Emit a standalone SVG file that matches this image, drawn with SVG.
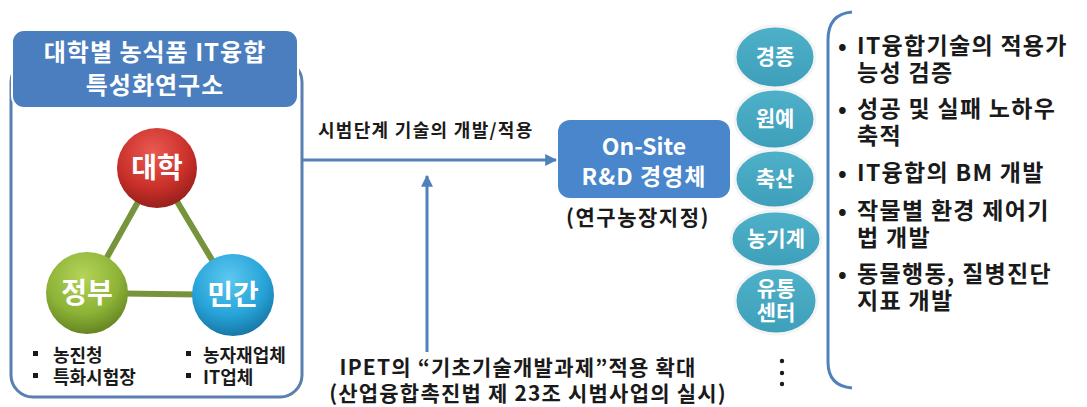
<svg xmlns="http://www.w3.org/2000/svg" width="1087" height="407" viewBox="0 0 1087 407">
<style>
.k{font-family:"Noto Sans CJK KR","Noto Sans",sans-serif;font-weight:bold}
.w{fill:#fff}
.d{fill:#1a1a1a}
.ell{fill:url(#gTeal);stroke:#f4f4f4;stroke-width:3}
.blue{stroke:#4F81BD;stroke-width:3;fill:none}
</style>
<defs>
<radialGradient id="gRed" cx="0.45" cy="0.3" r="0.75"><stop offset="0" stop-color="#ea5a52"/><stop offset="0.6" stop-color="#c9302a"/><stop offset="1" stop-color="#8f1c18"/></radialGradient>
<radialGradient id="gGreen" cx="0.45" cy="0.3" r="0.75"><stop offset="0" stop-color="#b4d45a"/><stop offset="0.6" stop-color="#8cb236"/><stop offset="1" stop-color="#5e7d1e"/></radialGradient>
<radialGradient id="gBlue" cx="0.45" cy="0.3" r="0.75"><stop offset="0" stop-color="#5cc8f0"/><stop offset="0.6" stop-color="#27a3d8"/><stop offset="1" stop-color="#14709c"/></radialGradient>
<linearGradient id="gTeal" x1="0" y1="0" x2="0" y2="1"><stop offset="0" stop-color="#4fb0c9"/><stop offset="1" stop-color="#3e9fba"/></linearGradient>
<marker id="arr" viewBox="0 0 10 10" refX="9" refY="5" markerWidth="4" markerHeight="4" orient="auto"><path d="M0,0 L10,5 L0,10 z" fill="#4F81BD"/></marker>
</defs>
<rect width="1087" height="407" fill="#fff"/>

<g id="left-panel">
<rect x="11" y="60" width="291" height="337" rx="22" fill="none" stroke="#5a7fb0" stroke-width="3"/>
<rect x="12" y="30" width="286" height="78" rx="12" fill="#4a7ebe" stroke="#fff" stroke-width="2"/>
<text class="k w" font-size="24" letter-spacing="1" text-anchor="middle"><tspan x="155" y="61">대학별 농식품 IT융합</tspan><tspan x="155" y="94">특성화연구소</tspan></text>
</g>

<g id="triangle-links" stroke="#77933C" stroke-width="6">
<line x1="157" y1="168" x2="87" y2="293"/>
<line x1="157" y1="168" x2="233" y2="295"/>
<line x1="87" y1="293" x2="233" y2="295"/>
</g>
<g id="node-daehak">
<circle cx="157" cy="168" r="40" fill="url(#gRed)"/>
<text class="k w" font-size="28" text-anchor="middle" x="157" y="178">대학</text>
</g>
<g id="node-jeongbu">
<circle cx="87" cy="293" r="41" fill="url(#gGreen)"/>
<text class="k w" font-size="28" text-anchor="middle" x="87" y="303">정부</text>
</g>
<g id="node-mingan">
<circle cx="233" cy="295" r="41" fill="url(#gBlue)"/>
<text class="k w" font-size="28" text-anchor="middle" x="233" y="305">민간</text>
</g>
<g id="left-bullets" class="k d" font-size="18">
<rect x="33" y="351" width="5" height="5" fill="#1a1a1a"/>
<rect x="33" y="373" width="5" height="5" fill="#1a1a1a"/>
<text><tspan x="53" y="362">농진청</tspan><tspan x="53" y="384">특화시험장</tspan></text>
<rect x="186" y="351" width="5" height="5" fill="#1a1a1a"/>
<rect x="186" y="373" width="5" height="5" fill="#1a1a1a"/>
<text><tspan x="203" y="362">농자재업체</tspan><tspan x="203" y="384">IT업체</tspan></text>
</g>

<g id="connectors">
<line class="blue" x1="303" y1="160" x2="556" y2="160" marker-end="url(#arr)"/>
<line class="blue" x1="427" y1="352" x2="427" y2="176" marker-end="url(#arr)"/>
</g>
<text class="k d" font-size="18" letter-spacing="1.3" x="318" y="137">시범단계 기술의 개발/적용</text>

<g id="node-onsite">
<rect x="558" y="120" width="172" height="78" rx="12" fill="#4a86cc"/>
<text class="k w" font-size="23" text-anchor="middle"><tspan x="644" y="155">On-Site</tspan><tspan x="644" y="185" letter-spacing="1">R&amp;D 경영체</tspan></text>
<text class="k d" font-size="21" letter-spacing="1.5" text-anchor="middle" x="638" y="225">(연구농장지정)</text>
</g>

<g id="bottom-label" class="k d" font-size="21" text-anchor="middle" letter-spacing="1.2">
<text><tspan x="518" y="375">IPET의 “기초기술개발과제”적용 확대</tspan><tspan x="528" y="401">(산업융합촉진법 제 23조 시범사업의 실시)</tspan></text>
</g>

<g id="node-gyeongjong">
<ellipse class="ell" cx="775" cy="57" rx="40" ry="31"/>
<text class="k w" font-size="21" text-anchor="middle" x="775" y="64">경종</text>
</g>
<g id="node-wonye">
<ellipse class="ell" cx="775" cy="119" rx="40" ry="30"/>
<text class="k w" font-size="21" text-anchor="middle" x="775" y="126">원예</text>
</g>
<g id="node-suksan">
<ellipse class="ell" cx="775" cy="179" rx="40" ry="29"/>
<text class="k w" font-size="21" text-anchor="middle" x="775" y="186">축산</text>
</g>
<g id="node-nonggigye">
<ellipse class="ell" cx="776" cy="239" rx="45" ry="28"/>
<text class="k w" font-size="21" text-anchor="middle" x="776" y="246">농기계</text>
</g>
<g id="node-yutong">
<ellipse class="ell" cx="776" cy="301" rx="41" ry="33"/>
<text class="k w" font-size="21" text-anchor="middle"><tspan x="776" y="296">유통</tspan><tspan x="776" y="320">센터</tspan></text>
</g>
<g id="dots" fill="#1a1a1a">
<circle cx="782" cy="361" r="2.2"/>
<circle cx="782" cy="373" r="2.2"/>
<circle cx="782" cy="384" r="2.2"/>
</g>

<g id="bracket-list">
<path d="M852,12 Q828,14 828,40 L828,362 Q828,386 852,388" fill="none" stroke="#4F81BD" stroke-width="3"/>
<g class="k d" font-size="23" letter-spacing="1.3">
<text><tspan x="838" y="54">•</tspan><tspan x="857" y="54">IT융합기술의 적용가</tspan><tspan x="857" y="81">능성 검증</tspan></text>
<text><tspan x="838" y="117">•</tspan><tspan x="857" y="117">성공 및 실패 노하우</tspan><tspan x="857" y="144">축적</tspan></text>
<text><tspan x="838" y="181">•</tspan><tspan x="857" y="181">IT융합의 BM 개발</tspan></text>
<text><tspan x="838" y="219">•</tspan><tspan x="857" y="219">작물별 환경 제어기</tspan><tspan x="857" y="246">법 개발</tspan></text>
<text><tspan x="838" y="282">•</tspan><tspan x="857" y="282">동물행동, 질병진단</tspan><tspan x="857" y="309">지표 개발</tspan></text>
</g>
</g>
</svg>
